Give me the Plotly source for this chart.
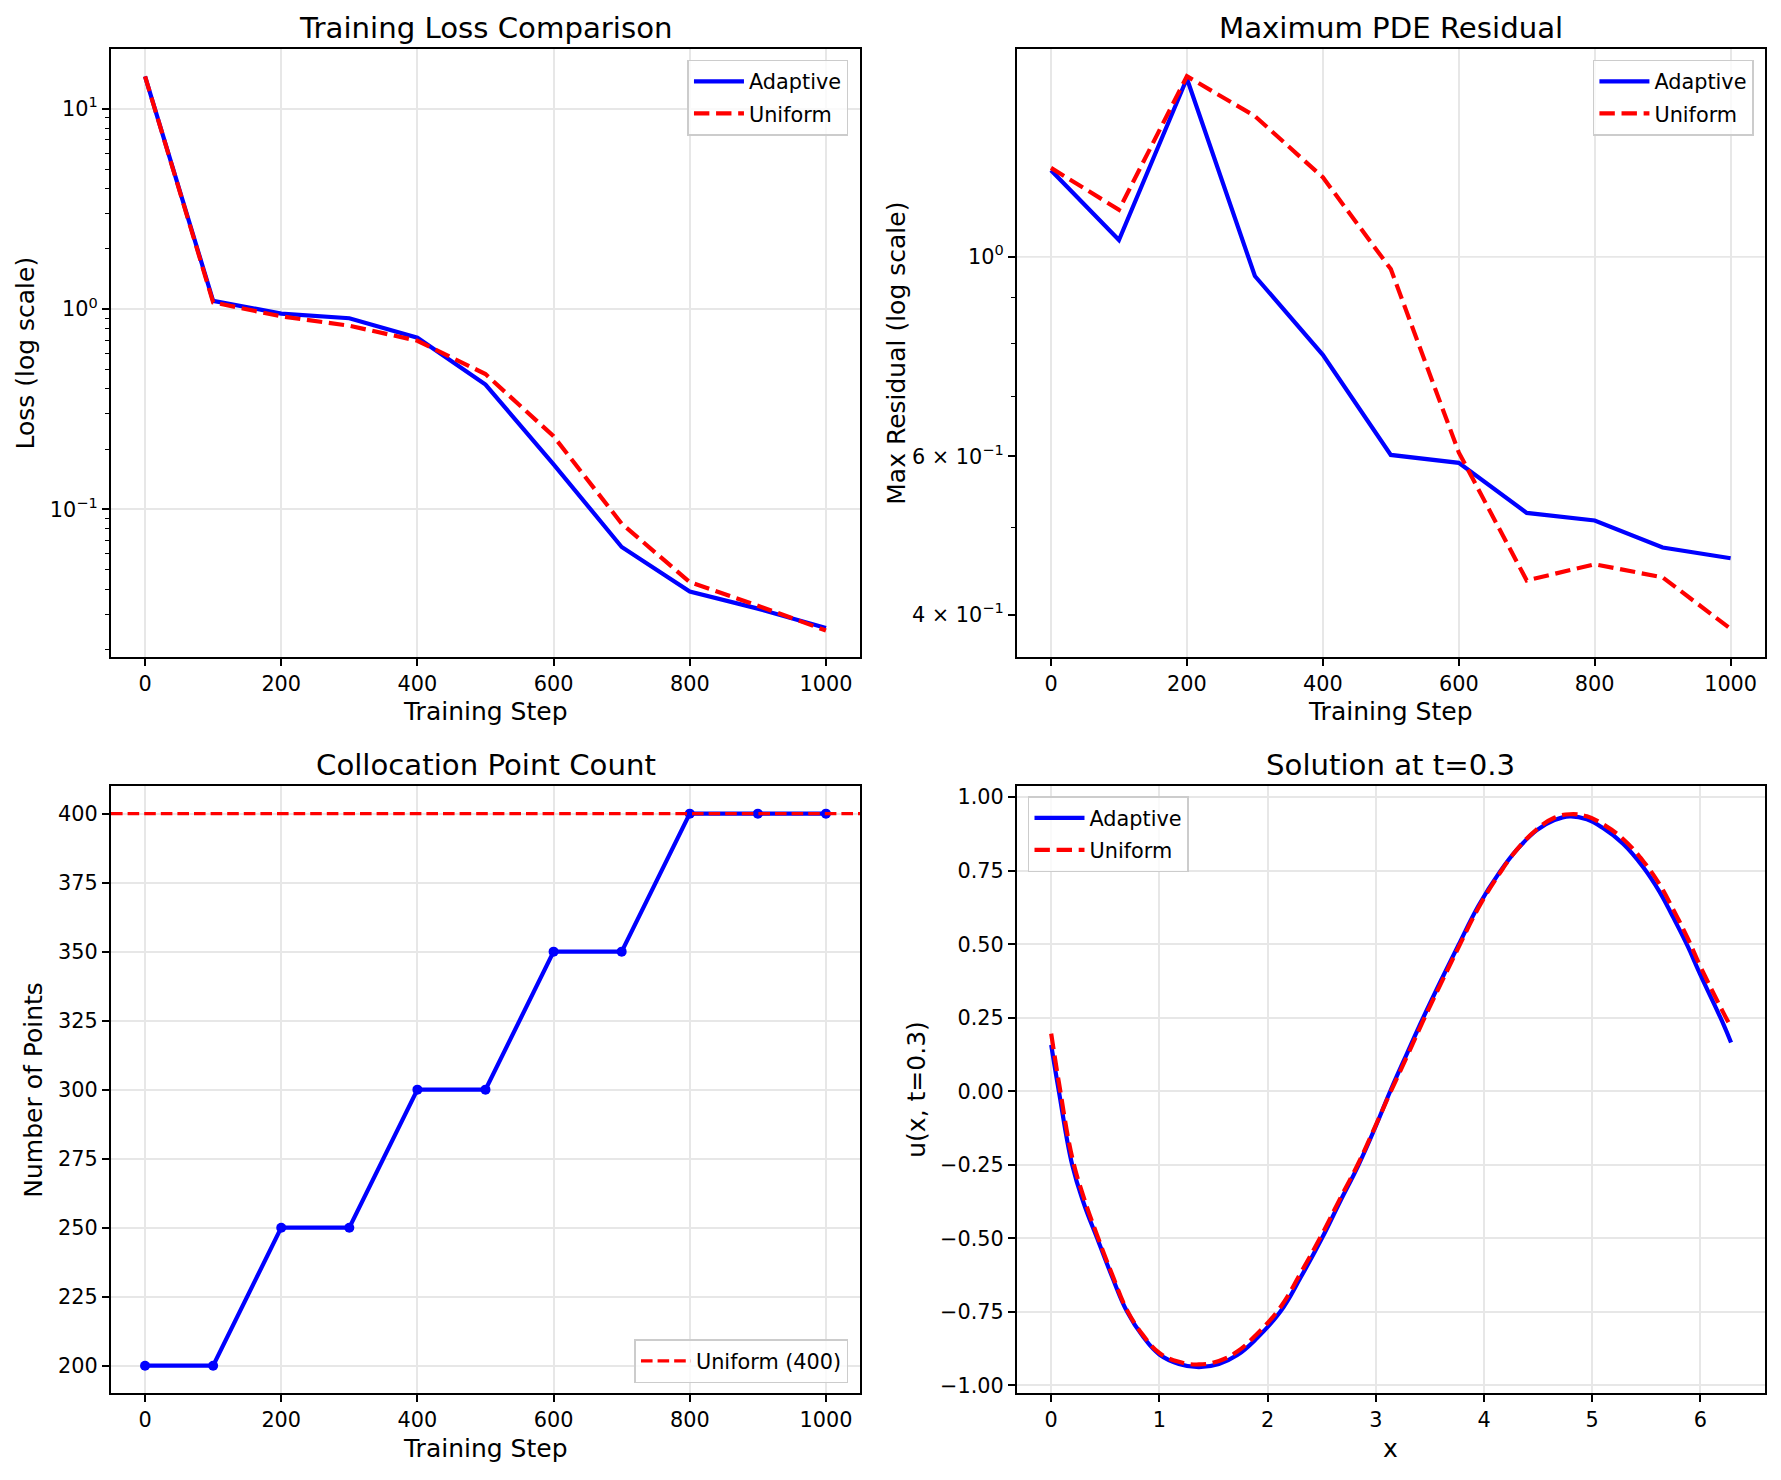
import plotly.graph_objects as go

# ---------------- data ----------------
STEPS = [0, 100, 200, 300, 400, 500, 600, 700, 800, 900, 1000]

LOSS_ADAPTIVE = [14.5, 1.10, 0.95, 0.90, 0.72, 0.42, 0.168, 0.065, 0.039, 0.032, 0.0256]
LOSS_UNIFORM = [14.5, 1.08, 0.92, 0.826, 0.695, 0.474, 0.232, 0.085, 0.0434, 0.0331, 0.0249]

RES_ADAPTIVE = [1.248, 1.044, 1.579, 0.952, 0.778, 0.602, 0.590, 0.519, 0.509, 0.475, 0.462]
RES_UNIFORM = [1.256, 1.128, 1.588, 1.434, 1.226, 0.969, 0.606, 0.4365, 0.455, 0.440, 0.3856]

POINT_COUNTS = [200, 200, 250, 250, 300, 300, 350, 350, 400, 400, 400]
UNIFORM_POINTS = 400

X_GRID = [0, 0.071, 0.194, 0.30, 0.425, 0.56, 0.702, 0.85, 1.0, 1.18, 1.364, 1.55, 1.72,
          1.9, 2.117, 2.31, 2.502, 2.67, 2.841, 3.0, 3.133, 3.29, 3.438, 3.6, 3.761, 3.95,
          4.146, 4.3, 4.485, 4.65, 4.792, 4.95, 5.1, 5.285, 5.47, 5.62, 5.746, 5.88, 6.0,
          6.208, 6.283]
U_ADAPTIVE = [0.158, 0.0, -0.25, -0.38, -0.50, -0.628, -0.75, -0.835, -0.895, -0.927, -0.938,
              -0.927, -0.897, -0.84, -0.75, -0.63, -0.50, -0.375, -0.25, -0.118, 0.0, 0.13,
              0.25, 0.375, 0.495, 0.632, 0.746, 0.82, 0.887, 0.922, 0.935, 0.925, 0.895,
              0.842, 0.763, 0.68, 0.593, 0.495, 0.396, 0.232, 0.166]
U_UNIFORM = [0.196, 0.03, -0.225, -0.36, -0.49, -0.62, -0.745, -0.83, -0.89, -0.92, -0.929,
             -0.917, -0.885, -0.826, -0.735, -0.615, -0.487, -0.365, -0.243, -0.115, -0.005,
             0.12, 0.24, 0.365, 0.487, 0.625, 0.742, 0.82, 0.89, 0.93, 0.942, 0.935, 0.908,
             0.858, 0.783, 0.705, 0.62, 0.522, 0.424, 0.27, 0.218]

LOSS_MAJOR = [0.1, 1, 10]
LOSS_MAJOR_TEXT = ["10<sup>−1</sup>", "10<sup>0</sup>", "10<sup>1</sup>"]
LOSS_MINOR = [0.02, 0.03, 0.04, 0.05, 0.06, 0.07, 0.08, 0.09,
              0.2, 0.3, 0.4, 0.5, 0.6, 0.7, 0.8, 0.9,
              2, 3, 4, 5, 6, 7, 8, 9]
RES_TICKS = [0.4, 0.6, 1.0]
RES_TICK_TEXT = ["4 × 10<sup>−1</sup>", "6 × 10<sup>−1</sup>", "10<sup>0</sup>"]
RES_MINOR = [0.5, 0.7, 0.8, 0.9]
RES_GRID = 1.0

# ---------------- styling ----------------
FONT = "DejaVu Sans"
BLUE = "rgb(0,0,255)"
RED = "rgb(255,0,0)"
LW = 4.2
DASH = "15.4px,6.7px"
GRID = "#e7e7e7"

XL = [0.06232, 0.48287]
XR = [0.57103, 0.99079]
YT = [0.55541, 0.96716]
YB = [0.05608, 0.46777]


def axis(**kw):
    d = dict(showline=True, linecolor="black", linewidth=1.6, mirror=True,
             ticks="outside", ticklen=7.3, tickwidth=1.6, tickcolor="black",
             showgrid=True, gridcolor=GRID, gridwidth=1.6, zeroline=False,
             tickfont=dict(family=FONT, size=20.8, color="black"))
    d.update(kw)
    return d


fig = go.Figure()

# Panel 1: training loss
fig.add_trace(go.Scatter(x=STEPS, y=LOSS_ADAPTIVE, mode="lines", name="Adaptive", legendgroup="a1",
                         line=dict(color=BLUE, width=LW), xaxis="x", yaxis="y", legend="legend"))
fig.add_trace(go.Scatter(x=STEPS, y=LOSS_UNIFORM, mode="lines", name="Uniform", legendgroup="u1",
                         line=dict(color=RED, width=LW, dash=DASH), xaxis="x", yaxis="y", legend="legend"))

# Panel 2: max residual
fig.add_trace(go.Scatter(x=STEPS, y=RES_ADAPTIVE, mode="lines", name="Adaptive", legendgroup="a2",
                         line=dict(color=BLUE, width=LW), xaxis="x2", yaxis="y2", legend="legend2"))
fig.add_trace(go.Scatter(x=STEPS, y=RES_UNIFORM, mode="lines", name="Uniform", legendgroup="u2",
                         line=dict(color=RED, width=LW, dash=DASH), xaxis="x2", yaxis="y2", legend="legend2"))

# Panel 3: collocation count
fig.add_trace(go.Scatter(x=STEPS, y=POINT_COUNTS, mode="lines+markers", showlegend=False,
                         line=dict(color=BLUE, width=LW), marker=dict(color=BLUE, size=10),
                         xaxis="x3", yaxis="y3"))

# Panel 4: solution
fig.add_trace(go.Scatter(x=X_GRID, y=U_ADAPTIVE, mode="lines", name="Adaptive", legendgroup="a4",
                         line=dict(color=BLUE, width=LW, shape="spline", smoothing=1.2),
                         xaxis="x4", yaxis="y4", legend="legend4"))
fig.add_trace(go.Scatter(x=X_GRID, y=U_UNIFORM, mode="lines", name="Uniform", legendgroup="u4",
                         line=dict(color=RED, width=LW, dash=DASH, shape="spline", smoothing=1.2),
                         xaxis="x4", yaxis="y4", legend="legend4"))

shapes = [
    dict(type="line", xref="x3 domain", x0=0, x1=1, yref="y3", y0=UNIFORM_POINTS, y1=UNIFORM_POINTS,
         line=dict(color=RED, width=3.1, dash="11.6px,5px"), showlegend=True,
         name=f"Uniform ({UNIFORM_POINTS})", legend="legend3", layer="above"),
    dict(type="line", xref="x2 domain", x0=0, x1=1, yref="y2", y0=RES_GRID, y1=RES_GRID,
         line=dict(color=GRID, width=1.6), layer="below"),
]

leg = dict(bgcolor="rgba(255,255,255,0.8)", bordercolor="#cccccc", borderwidth=1.5,
           font=dict(family=FONT, size=20.8, color="black"), itemwidth=50,
           tracegroupgap=2)

annotations = []


def text(x, y, s, size, angle=0):
    annotations.append(dict(x=x, y=y, xref="paper", yref="paper", text=s, showarrow=False,
                            xanchor="center", yanchor="middle", textangle=angle,
                            font=dict(family=FONT, size=size, color="black")))


text(0.2726, 0.98149, "Training Loss Comparison", 29.2)
text(0.7809, 0.98149, "Maximum PDE Residual", 29.2)
text(0.2726, 0.48182, "Collocation Point Count", 29.2)
text(0.7809, 0.48182, "Solution at t=0.3", 29.2)
text(0.2726, 0.51851, "Training Step", 25)
text(0.7809, 0.51851, "Training Step", 25)
text(0.2726, 0.01851, "Training Step", 25)
text(0.7809, 0.01851, "x", 25)
text(0.01432, 0.7613, "Loss (log scale)", 25, -90)
text(0.5029, 0.7613, "Max Residual (log scale)", 25, -90)
text(0.0191, 0.2619, "Number of Points", 25, -90)
text(0.5149, 0.2619, "u(x, t=0.3)", 25, -90)

fig.update_layout(
    width=1781, height=1480, margin=dict(l=0, r=0, t=0, b=0),
    paper_bgcolor="white", plot_bgcolor="white",
    font=dict(family=FONT, color="black"),
    xaxis=axis(domain=XL, anchor="y", range=[-50, 1050], dtick=200, tick0=0),
    yaxis=axis(domain=YT, anchor="x", type="log", range=[-1.735, 1.2958],
               tickvals=LOSS_MAJOR, ticktext=LOSS_MAJOR_TEXT,
               minor=dict(tickvals=LOSS_MINOR, ticks="outside", ticklen=4.2, tickwidth=1.2,
                          tickcolor="black", showgrid=False)),
    xaxis2=axis(domain=XR, anchor="y2", range=[-50, 1050], dtick=200, tick0=0),
    yaxis2=axis(domain=YT, anchor="x2", type="log", range=[-0.4449, 0.2307],
                tickvals=RES_TICKS, ticktext=RES_TICK_TEXT, showgrid=False,
                minor=dict(tickvals=RES_MINOR, ticks="outside", ticklen=4.2, tickwidth=1.2,
                           tickcolor="black", showgrid=False)),
    xaxis3=axis(domain=XL, anchor="y3", range=[-50, 1050], dtick=200, tick0=0),
    yaxis3=axis(domain=YB, anchor="x3", range=[190, 410], dtick=25, tick0=200),
    xaxis4=axis(domain=XR, anchor="y4", range=[-0.316, 6.593], dtick=1, tick0=0),
    yaxis4=axis(domain=YB, anchor="x4", range=[-1.027, 1.038], dtick=0.25, tick0=0,
                tickformat=".2f"),
    legend=dict(leg, x=0.4764, y=0.9601, xanchor="right", yanchor="top"),
    legend2=dict(leg, x=0.9848, y=0.9601, xanchor="right", yanchor="top"),
    legend3=dict(leg, x=0.4764, y=0.0628, xanchor="right", yanchor="bottom"),
    legend4=dict(leg, x=0.5772, y=0.4608, xanchor="left", yanchor="top"),
    shapes=shapes,
    annotations=annotations,
)

fig.write_html("out.html")
